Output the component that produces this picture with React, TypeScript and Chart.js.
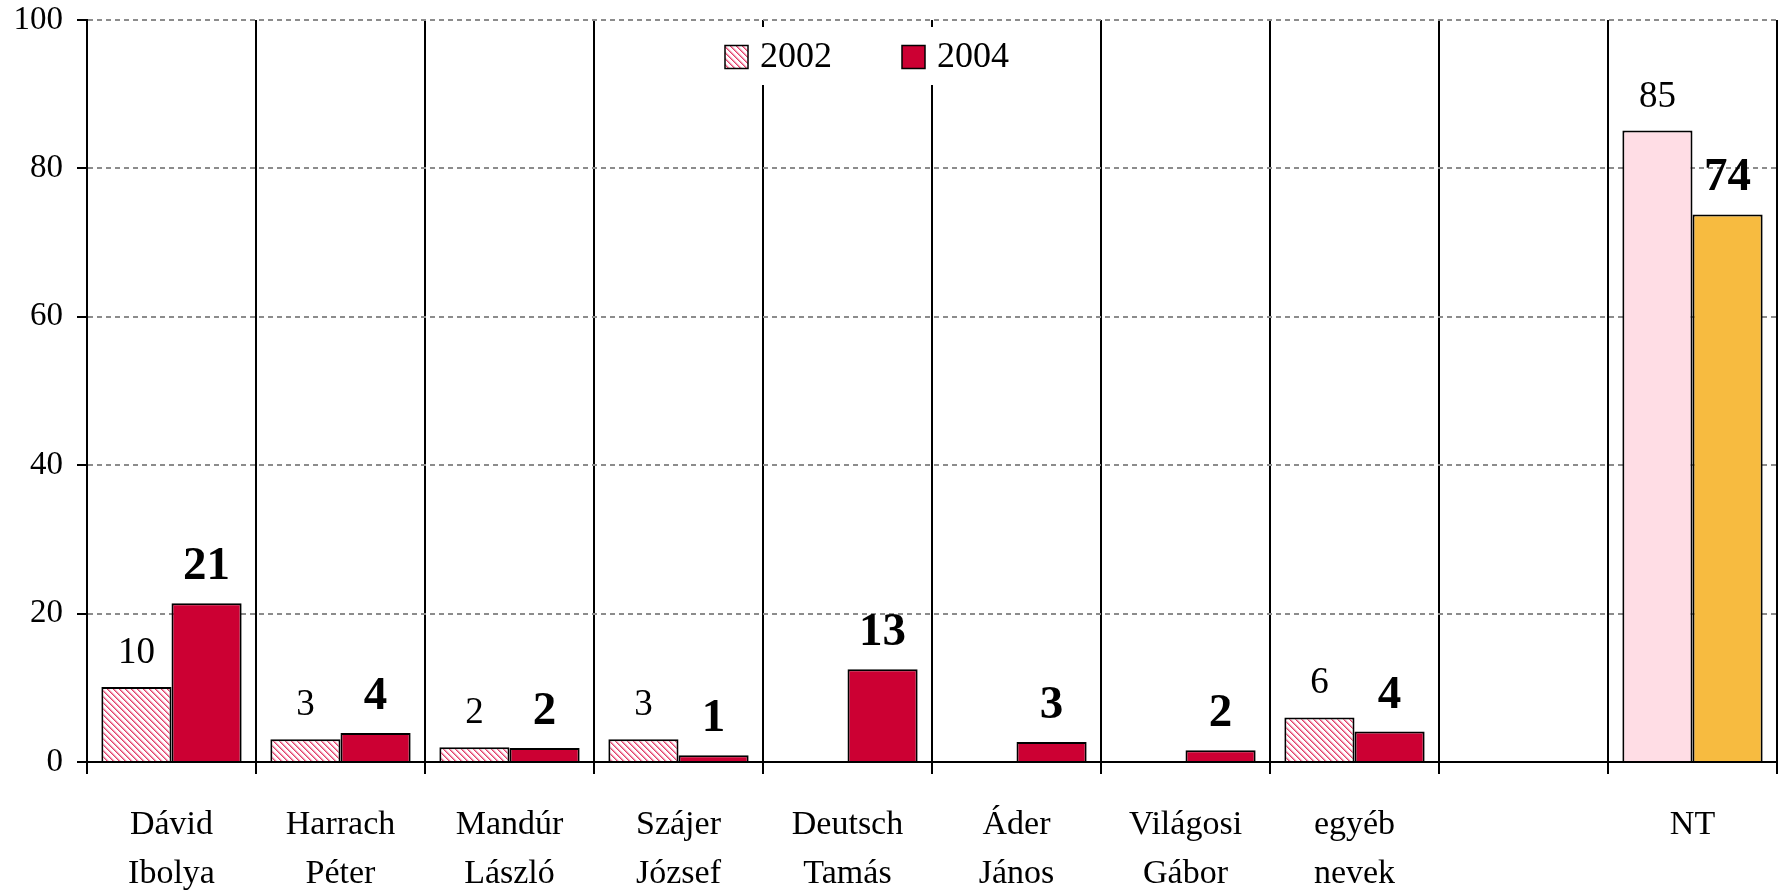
import React, { useEffect, useRef } from 'react';
import { Chart, registerables } from 'chart.js';

Chart.register(...registerables);

// ---------- data ----------
const categories: (string | string[])[] = [
  ['Dávid', 'Ibolya'],
  ['Harrach', 'Péter'],
  ['Mandúr', 'László'],
  ['Szájer', 'József'],
  ['Deutsch', 'Tamás'],
  ['Áder', 'János'],
  ['Világosi', 'Gábor'],
  ['egyéb', 'nevek'],
  '',
  'NT',
];
const seriesLabels = ['2002', '2004'];
const values2002: (number | null)[] = [10.1, 3.05, 2.0, 3.05, null, null, null, 6.0, null, 85.1];
const values2004: (number | null)[] = [21.4, 3.9, 1.9, 0.9, 12.5, 2.7, 1.6, 4.1, null, 73.8];
const yMin = 0;
const yMax = 100;
const yStep = 20;

// ---------- style ----------
const FONT = '"Liberation Serif", "Times New Roman", serif';
const CRIMSON = '#CC0033';
const PINK = '#FFDDE5';
const ORANGE = '#F7BB40';

function makeHatch(): CanvasPattern | string {
  const s = 6;
  const c = document.createElement('canvas');
  c.width = s;
  c.height = s;
  const g = c.getContext('2d');
  if (!g) return '#f5a0b5';
  g.fillStyle = '#ffffff';
  g.fillRect(0, 0, s, s);
  for (let i = 0; i < s; i++) {
    g.fillStyle = '#e0406a';
    g.fillRect(i, i, 1, 1);
    g.fillStyle = '#f090aa';
    g.fillRect((i + 1) % s, i, 1, 1);
    g.fillStyle = '#fbd3de';
    g.fillRect((i + 2) % s, i, 1, 1);
  }
  const p = g.createPattern(c, 'repeat');
  return p || '#f5a0b5';
}

export default function App() {
  const ref = useRef<HTMLCanvasElement | null>(null);

  useEffect(() => {
    if (!ref.current) return;
    const hatch = makeHatch();
    const n = categories.length;
    const bg2002 = values2002.map((_, i) => (i === n - 1 ? PINK : hatch));
    const bg2004 = values2004.map((_, i) => (i === n - 1 ? ORANGE : CRIMSON));

    const valueLabels = {
      id: 'valueLabels',
      afterDatasetsDraw(chart: any) {
        const ctx = chart.ctx;
        chart.data.datasets.forEach((ds: any, di: number) => {
          const meta = chart.getDatasetMeta(di);
          meta.data.forEach((bar: any, i: number) => {
            const v = ds.data[i];
            if (v == null) return;
            ctx.save();
            ctx.font = di === 0 ? `37px ${FONT}` : `bold 47px ${FONT}`;
            ctx.fillStyle = '#000';
            ctx.textAlign = 'center';
            ctx.textBaseline = 'alphabetic';
            ctx.fillText(String(Math.round(v)), bar.x, bar.y - 24);
            ctx.restore();
          });
        });
      },
    };

    const customLegend = {
      id: 'customLegend',
      afterDraw(chart: any) {
        const ctx = chart.ctx;
        const left = chart.chartArea.left;
        const top = chart.chartArea.top;
        ctx.save();
        ctx.fillStyle = '#fff';
        ctx.fillRect(left + 628, top + 7, 300, 58);
        const items = [
          { x: left + 638, fill: hatch, text: seriesLabels[0] },
          { x: left + 815, fill: CRIMSON, text: seriesLabels[1] },
        ];
        const cy = top + 37;
        items.forEach((it) => {
          ctx.fillStyle = it.fill as any;
          ctx.fillRect(it.x, cy - 11.5, 23, 23);
          ctx.strokeStyle = '#000';
          ctx.lineWidth = 1.5;
          ctx.strokeRect(it.x, cy - 11.5, 23, 23);
          ctx.fillStyle = '#000';
          ctx.font = `36px ${FONT}`;
          ctx.textAlign = 'left';
          ctx.textBaseline = 'middle';
          ctx.fillText(it.text, it.x + 35, cy + 1);
        });
        ctx.restore();
      },
    };

    const chart = new Chart(ref.current, {
      type: 'bar',
      data: {
        labels: categories,
        datasets: [
          {
            label: seriesLabels[0],
            data: values2002,
            backgroundColor: bg2002 as any,
            borderColor: '#000',
            borderWidth: 2,
            categoryPercentage: 0.83,
            barPercentage: 1,
          },
          {
            label: seriesLabels[1],
            data: values2004,
            backgroundColor: bg2004,
            borderColor: '#000',
            borderWidth: 2,
            categoryPercentage: 0.83,
            barPercentage: 1,
          },
        ],
      },
      options: {
        animation: false,
        responsive: true,
        maintainAspectRatio: false,
        layout: { padding: { top: 0, right: 1, left: 0, bottom: 0 } },
        plugins: {
          legend: { display: false },
          tooltip: { enabled: false },
        },
        scales: {
          x: {
            offset: true,
            grid: {
              offset: true,
              color: '#000',
              lineWidth: 2,
              tickLength: 12,
              tickColor: '#000',
              tickWidth: 2,
            },
            border: { color: '#000', width: 2 },
            ticks: {
              color: '#000',
              font: { family: FONT, size: 34, lineHeight: 1.45 },
              padding: 26,
              autoSkip: false,
              maxRotation: 0,
              minRotation: 0,
            },
            afterFit(scale: any) {
              scale.height = 132;
            },
          },
          y: {
            min: yMin,
            max: yMax,
            ticks: {
              stepSize: yStep,
              color: '#000',
              font: { family: FONT, size: 33 },
              padding: 14,
            },
            grid: {
              color: (c: any) => (c.tick && c.tick.value === 0 ? 'rgba(0,0,0,0)' : '#8c8c8c'),
              lineWidth: 2,
              tickLength: 10,
              tickColor: '#000',
              tickWidth: 2,
              tickBorderDash: [],
            },
            border: { color: '#000', width: 2, dash: [5, 4] },
            afterFit(scale: any) {
              scale.width = 87;
              scale.paddingTop = 20;
              scale.paddingBottom = 0;
            },
          },
        },
      },
      plugins: [valueLabels, customLegend],
    });
    return () => chart.destroy();
  }, []);

  return (
    <div style={{ position: 'fixed', left: 0, top: 0, width: 1778, height: 894, background: '#fff' }}>
      <canvas ref={ref} />
    </div>
  );
}
